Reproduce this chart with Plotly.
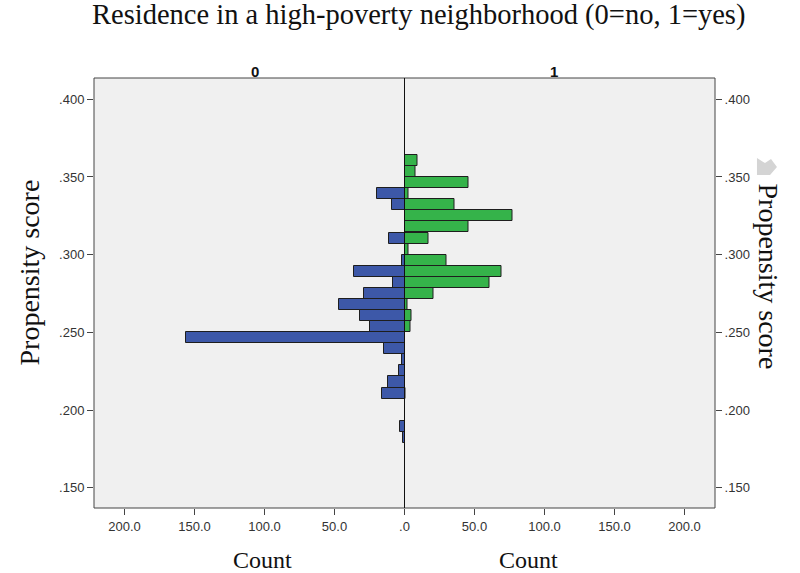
import plotly.graph_objects as go

# Bin centers (propensity score), top to bottom
bin_centers = [0.3606, 0.3535, 0.3464, 0.3392, 0.3321, 0.3250, 0.3179, 0.3107,
               0.3036, 0.2965, 0.2893, 0.2822, 0.2751, 0.2680, 0.2608, 0.2537,
               0.2466, 0.2394, 0.2323, 0.2252, 0.2181, 0.2109, 0.2038, 0.1967,
               0.1896, 0.1824]
bin_width = 0.00713

# Counts for group 0 (not in high-poverty neighborhood)
counts_0 = [0, 0, 0, 20, 9, 0, 0, 11, 0, 2, 36, 8, 29, 47, 32, 25,
            156, 15, 2, 4, 12, 16, 0, 0, 3, 1]
# Counts for group 1 (high-poverty neighborhood)
counts_1 = [9, 8, 46, 3, 36, 77, 46, 17, 3, 30, 69, 61, 21, 2, 5, 4,
            0, 0, 0, 0, 0, 1, 0, 0, 0, 0]

y_ticks = [0.15, 0.20, 0.25, 0.30, 0.35, 0.40]
y_tick_labels = [".150", ".200", ".250", ".300", ".350", ".400"]
x_ticks = [0, 50, 100, 150, 200]
x_tick_labels = [".0", "50.0", "100.0", "150.0", "200.0"]

title_text = "Residence in a high-poverty neighborhood (0=no, 1=yes)"
group_labels = ["0", "1"]

BLUE = "#3D58A8"
GREEN = "#35B34A"
EDGE = "#1e1e1e"

def nz(ys, xs):
    pairs = [(y, x) for y, x in zip(ys, xs) if x > 0]
    return [p[0] for p in pairs], [p[1] for p in pairs]

y0, x0 = nz(bin_centers, counts_0)
y1, x1 = nz(bin_centers, counts_1)

fig = go.Figure()
fig.add_trace(go.Bar(orientation="h", y=y0, x=x0, width=bin_width,
                     marker=dict(color=BLUE, line=dict(color=EDGE, width=1)),
                     xaxis="x", yaxis="y", showlegend=False))
fig.add_trace(go.Bar(orientation="h", y=y1, x=x1, width=bin_width,
                     marker=dict(color=GREEN, line=dict(color=EDGE, width=1)),
                     xaxis="x2", yaxis="y2", showlegend=False))

XMAX = 221.8
YR = [0.137, 0.4137]
tickfont = dict(family="Liberation Sans, Arial, sans-serif", size=13, color="#333")
axcommon = dict(showgrid=False, zeroline=False, ticks="outside", ticklen=6,
                tickcolor="#444", tickwidth=1, tickfont=tickfont, showline=False)

L, R, T, B = 94, 85, 78, 65
W, H = 800, 573
PW, PH = W - L - R, H - T - B

def px(x):
    return (x - L) / PW

def py(y):
    return (H - B - y) / PH

fig.update_layout(
    width=W, height=H,
    margin=dict(l=L, r=R, t=T, b=B),
    paper_bgcolor="white",
    plot_bgcolor="#F0F0F0",
    bargap=0,
    xaxis=dict(domain=[0, 0.5], range=[XMAX, 0], anchor="y",
               tickvals=x_ticks, ticktext=x_tick_labels, **axcommon),
    xaxis2=dict(domain=[0.5, 1], range=[0, XMAX], anchor="y2",
                tickvals=x_ticks[1:], ticktext=x_tick_labels[1:], **axcommon),
    yaxis=dict(domain=[0, 1], range=YR, anchor="x", side="left",
               tickvals=y_ticks, ticktext=y_tick_labels, **axcommon),
    yaxis2=dict(domain=[0, 1], range=YR, anchor="x2", side="right",
                tickvals=y_ticks, ticktext=y_tick_labels, **axcommon),
)

arrow_pts = [(757, 158), (765, 163), (771, 159), (777, 167), (770, 175), (757, 175)]
arrow_path = "M " + " L ".join("%.4f %.4f" % (px(a), py(b)) for a, b in arrow_pts) + " Z"

fig.update_layout(shapes=[
    dict(type="rect", xref="paper", yref="paper", x0=0, x1=1, y0=0, y1=1,
         line=dict(color="#444", width=1), layer="above"),
    dict(type="line", xref="paper", yref="paper", x0=0.5, x1=0.5, y0=0, y1=1,
         line=dict(color="#111", width=1), layer="above"),
    dict(type="path", xref="paper", yref="paper", path=arrow_path,
         fillcolor="#d4d4d4", line=dict(width=0)),
])

serif = "Liberation Serif, Times New Roman, serif"
ann = [
    dict(text=title_text, x=px(418), y=py(15), xref="paper", yref="paper",
         showarrow=False, font=dict(family=serif, size=28.5, color="#111"),
         xanchor="center", yanchor="middle"),
    dict(text="<b>%s</b>" % group_labels[0], x=0.25, y=py(71), xref="paper", yref="paper",
         showarrow=False, yanchor="middle",
         font=dict(family="Liberation Sans, Arial", size=15, color="#111")),
    dict(text="<b>%s</b>" % group_labels[1], x=0.75, y=py(71), xref="paper", yref="paper",
         showarrow=False, yanchor="middle",
         font=dict(family="Liberation Sans, Arial", size=15, color="#111")),
    dict(text="Propensity score", x=px(11), y=py(273), xref="paper", yref="paper",
         textangle=-90, showarrow=False, font=dict(family=serif, size=28, color="#111")),
    dict(text="Propensity score", x=px(786), y=py(276), xref="paper", yref="paper",
         textangle=90, showarrow=False, font=dict(family=serif, size=28, color="#111")),
    dict(text="Count", x=px(231), y=py(560), xref="paper", yref="paper",
         showarrow=False, yanchor="middle", font=dict(family=serif, size=24, color="#111")),
    dict(text="Count", x=px(560), y=py(560), xref="paper", yref="paper",
         showarrow=False, yanchor="middle", font=dict(family=serif, size=24, color="#111")),
]
fig.update_layout(annotations=ann)

fig.write_html("out.html", config={"displayModeBar": False},
               post_script="document.body.style.margin='0';document.body.style.overflow='hidden';")
